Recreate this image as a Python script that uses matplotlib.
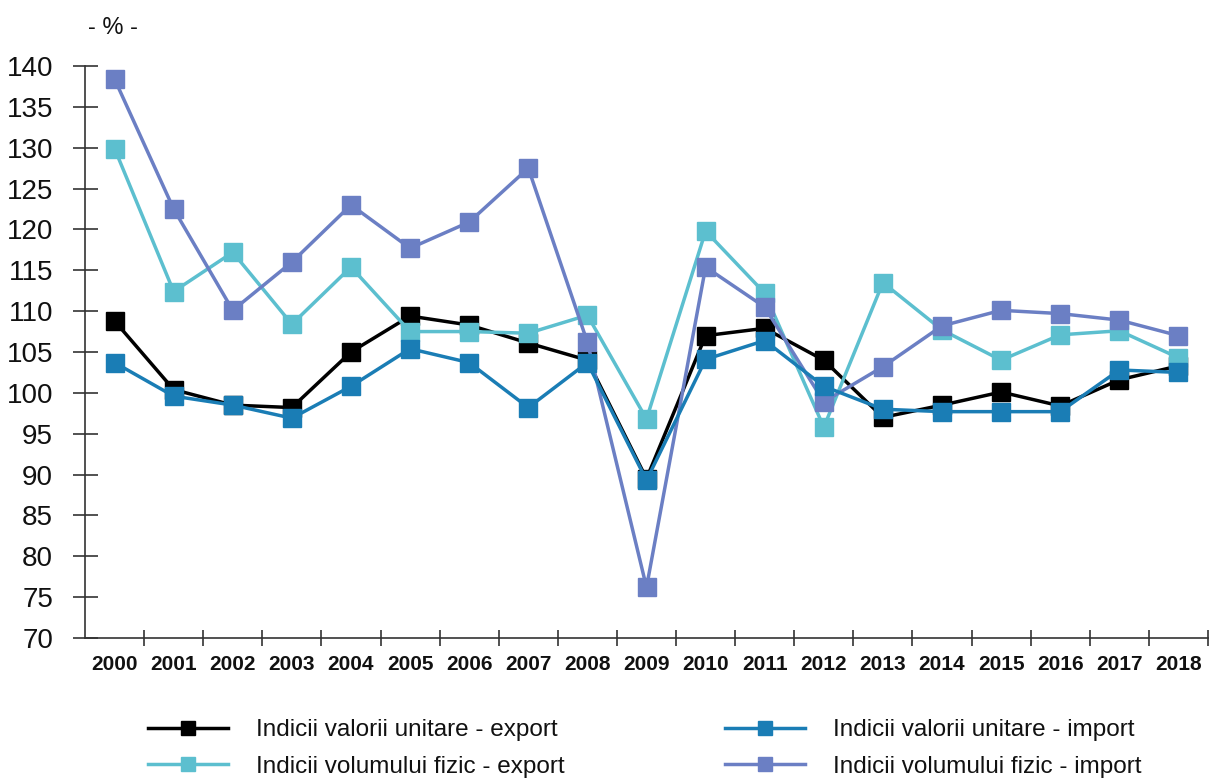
import matplotlib
matplotlib.use("Agg")
import matplotlib.pyplot as plt
import numpy as np

plt.rcParams['font.family'] = ['Liberation Sans', 'DejaVu Sans']

years = [str(y) for y in range(2000, 2019)]
unit_export = [108.8, 100.4, 98.5, 98.2, 105.0, 109.4, 108.3, 106.1, 104.0, 89.5,
               107.0, 107.9, 104.0, 97.0, 98.5, 100.1, 98.4, 101.6, 103.3]
unit_import = [103.7, 99.6, 98.5, 96.9, 100.8, 105.4, 103.7, 98.2, 103.7, 89.3,
               104.1, 106.4, 100.8, 98.0, 97.7, 97.7, 97.7, 102.8, 102.5]
vol_export = [129.9, 112.4, 117.2, 108.4, 115.4, 107.5, 107.5, 107.3, 109.5, 96.8,
              119.8, 112.2, 95.8, 113.5, 107.7, 104.0, 107.1, 107.6, 104.3]
vol_import = [138.4, 122.5, 110.1, 116.0, 123.0, 117.7, 120.9, 127.5, 106.2, 76.2,
              115.4, 110.5, 98.9, 103.2, 108.2, 110.1, 109.7, 108.9, 107.0]

labels = ["Indicii valorii unitare - export", "Indicii valorii unitare - import",
          "Indicii volumului fizic - export", "Indicii volumului fizic - import"]
c_black = "#000000"
c_dblue = "#1a7db5"
c_teal = "#5cbfcf"
c_peri = "#6b7fc4"

fig = plt.figure(figsize=(12.09, 7.81), dpi=100)
ax = fig.add_axes([85/1209, 1-638/781, (1208-85)/1209, (638-66)/781])

x = np.arange(len(years))
kw = dict(lw=2.5, marker='s', markersize=12.5)
l1, = ax.plot(x, unit_export, color=c_black, label=labels[0], zorder=3, **kw)
l3, = ax.plot(x, vol_export, color=c_teal, label=labels[2], zorder=4, **kw)
l4, = ax.plot(x, vol_import, color=c_peri, label=labels[3], zorder=5, **kw)
l2, = ax.plot(x, unit_import, color=c_dblue, label=labels[1], zorder=6, **kw)

ax.set_xlim(-0.5, len(years) - 0.5)
ax.set_ylim(70, 140)
ax.spines['top'].set_visible(False)
ax.spines['right'].set_visible(False)
for s in ['left', 'bottom']:
    ax.spines[s].set_color('#333333')
    ax.spines[s].set_linewidth(1.2)

ax.set_yticks(np.arange(70, 141, 5))
ax.tick_params(axis='y', direction='inout', length=18, width=1.2, color='#333333',
               labelsize=20, pad=14, labelcolor='#111111')
ax.set_xticks(np.arange(0.5, len(years), 1.0))
ax.set_xticklabels([])
ax.tick_params(axis='x', which='major', direction='inout', length=12, width=1.2, color='#333333')
ax.set_xticks(x, minor=True)
ax.set_xticklabels(years, minor=True, fontweight='bold', fontsize=15)
ax.tick_params(axis='x', which='minor', length=0, pad=12, labelcolor='#111111')

fig.text(113/1209, 1-28/781, "- % -", fontsize=17, ha='center', va='center', color='#111111')

leg = fig.legend([l1, l3, l2, l4], [labels[0], labels[2], labels[1], labels[3]],
                 ncol=2, loc='upper left', bbox_to_anchor=(148/1209, 1-719/781),
                 frameon=False, fontsize=17.5, handlelength=3.3, handletextpad=1.15,
                 columnspacing=6.6, labelspacing=0.6, borderpad=0, borderaxespad=0,
                 markerscale=0.85)
for t in leg.get_texts():
    t.set_color('#111111')

fig.savefig("out.png", dpi=100)
